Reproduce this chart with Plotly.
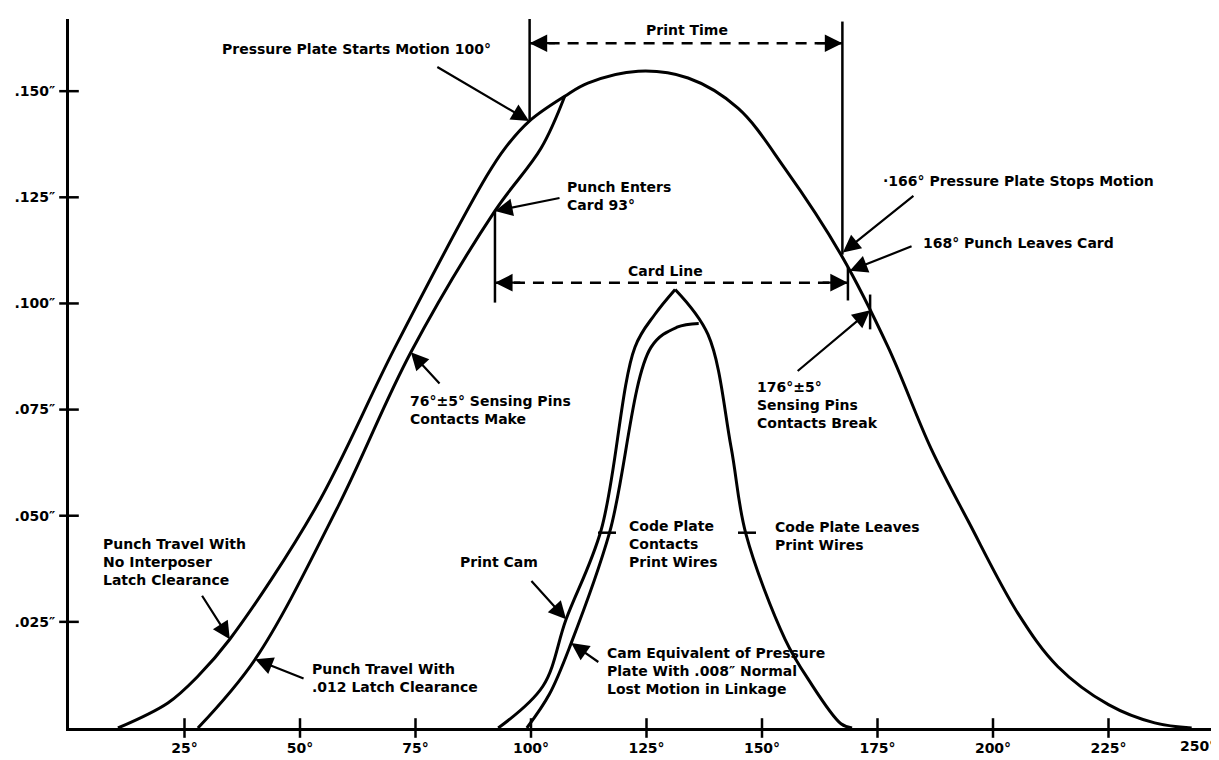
import plotly.graph_objects as go

# curves (degrees, inches)
punch_deg = [10.6, 21.4, 27.9, 34.8, 53.5, 70.6, 90.4, 94.4, 99.7, 107.3, 112.3,
             123.2, 134.0, 144.8, 154.9, 167.1, 177.3, 186.6, 194.6,
             205.4, 214.0, 225.0, 235.0, 243.0]
punch_val = [0.0, 0.0059, 0.0122, 0.0209, 0.0521, 0.0897, 0.1300, 0.1366, 0.1430,
             0.1488, 0.1519, 0.1547, 0.1531, 0.1460, 0.1319, 0.1115,
             0.0897, 0.0658, 0.0488, 0.0270, 0.0145, 0.0055, 0.0012, 0.0]

latch_deg = [27.9, 40.3, 58.2, 74.0, 92.2, 102.2, 107.3]
latch_val = [0.0, 0.0162, 0.0521, 0.0885, 0.1218, 0.1366, 0.1488]

cam_up_deg = [92.9, 102.6, 107.6, 115.2, 122.5, 126.8, 131.2]
cam_up_val = [0.0, 0.0099, 0.0256, 0.0467, 0.0897, 0.0974, 0.1033]
cam_down_deg = [131.2, 138.3, 143.3, 146.5, 155.0, 160.0, 167.1, 169.5]
cam_down_val = [0.1033, 0.0927, 0.0662, 0.0458, 0.0209, 0.0115, 0.0010, 0.0]

plate_deg = [99.1, 104.0, 108.7, 117.0, 126.0, 131.6, 136.3]
plate_val = [0.0, 0.0080, 0.0200, 0.0460, 0.0897, 0.0944, 0.0953]

x_ticks = [25, 50, 75, 100, 125, 150, 175, 200, 225, 250]
x_labels = ["25°", "50°", "75°", "100°", "125°", "150°", "175°", "200°", "225°", "250°"]
y_ticks = [0.025, 0.050, 0.075, 0.100, 0.125, 0.150]
y_labels = [".025″", ".050″", ".075″", ".100″", ".125″", ".150″"]

# marker lines: (x0, y0, x1, y1, dashed)
guides = [
    (99.7, 0.1430, 99.7, 0.1676, False),
    (167.4, 0.1115, 167.4, 0.1664, False),
    (99.7, 0.1613, 167.4, 0.1613, True),
    (92.2, 0.1218, 92.2, 0.1002, False),
    (168.6, 0.1085, 168.6, 0.1007, False),
    (92.2, 0.1049, 168.6, 0.1049, True),
    (173.4, 0.1021, 173.4, 0.0939, False),
    (114.5, 0.0460, 118.4, 0.0460, False),
    (144.8, 0.0460, 148.7, 0.0460, False),
]

# arrows: (tip x, tip y, tail x, tail y)
arrows = [
    (99.6, 0.1430, 79.4, 0.1559),
    (92.2, 0.1218, 106.5, 0.1249),
    (167.5, 0.1120, 183.1, 0.1256),
    (169.0, 0.1077, 182.7, 0.1136),
    (173.4, 0.0984, 157.4, 0.0838),
    (74.0, 0.0885, 80.5, 0.0808),
    (34.8, 0.0209, 28.6, 0.0315),
    (40.3, 0.0162, 51.1, 0.0115),
    (107.6, 0.0256, 99.8, 0.0350),
    (108.7, 0.0200, 114.9, 0.0153),
    (99.7, 0.1613, 105.5, 0.1613),
    (167.4, 0.1613, 161.6, 0.1613),
    (92.2, 0.1049, 98.0, 0.1049),
    (168.6, 0.1049, 162.8, 0.1049),
]

# labels: (x, y, text, anchor)
labels = [
    (32.7, 0.1599, "Pressure Plate Starts Motion 100°", "left"),
    (133.8, 0.1643, "Print Time", "center"),
    (107.4, 0.1252, "Punch Enters<br>Card 93°", "left"),
    (129.2, 0.1077, "Card Line", "center"),
    (175.8, 0.1289, "·166° Pressure Plate Stops Motion", "left"),
    (184.4, 0.1143, "168° Punch Leaves Card", "left"),
    (148.5, 0.0761, "176°±5°<br>Sensing Pins<br>Contacts Break", "left"),
    (73.4, 0.0748, "76°±5° Sensing Pins<br>Contacts Make", "left"),
    (6.9, 0.0392, "Punch Travel With<br>No Interposer<br>Latch Clearance", "left"),
    (52.2, 0.0117, "Punch Travel With<br>.012 Latch Clearance", "left"),
    (84.2, 0.0392, "Print Cam", "left"),
    (120.8, 0.0434, "Code Plate<br>Contacts<br>Print Wires", "left"),
    (152.4, 0.0452, "Code Plate Leaves<br>Print Wires", "left"),
    (116.0, 0.0134, "Cam Equivalent of Pressure<br>Plate With .008″ Normal<br>Lost Motion in Linkage", "left"),
]

FONT = "DejaVu Sans"
fig = go.Figure()

for xs, ys in [(punch_deg, punch_val), (latch_deg, latch_val), (cam_up_deg, cam_up_val),
               (cam_down_deg, cam_down_val), (plate_deg, plate_val)]:
    fig.add_trace(go.Scatter(x=xs, y=ys, mode="lines", line=dict(color="black", width=3, shape="spline", smoothing=1.0),
                             hoverinfo="skip", showlegend=False))

for x0, y0, x1, y1, dashed in guides:
    fig.add_trace(go.Scatter(x=[x0, x1], y=[y0, y1], mode="lines",
                             line=dict(color="black", width=2.5, dash="11px,8px" if dashed else "solid"),
                             hoverinfo="skip", showlegend=False))

# tick marks crossing the axes
fig.add_trace(go.Scatter(x=x_ticks, y=[0] * len(x_ticks), mode="markers", cliponaxis=False,
                         marker=dict(symbol="line-ns", size=14, line=dict(color="black", width=2.5)),
                         hoverinfo="skip", showlegend=False))
fig.add_trace(go.Scatter(x=[0] * len(y_ticks), y=y_ticks, mode="markers", cliponaxis=False,
                         marker=dict(symbol="line-ew", size=14, line=dict(color="black", width=2.5)),
                         hoverinfo="skip", showlegend=False))

for tx, ty, fx, fy in arrows:
    fig.add_annotation(x=tx, y=ty, ax=fx, ay=fy, axref="x", ayref="y", xref="x", yref="y",
                       text="", showarrow=True, arrowhead=2, arrowsize=1.6, arrowwidth=2.2,
                       arrowcolor="black", standoff=0)

for lx, ly, txt, anchor in labels:
    fig.add_annotation(x=lx, y=ly, text="<b>" + txt + "</b>", showarrow=False, xanchor=anchor,
                       yanchor="middle", align="left", font=dict(family=FONT, size=14, color="black"))

# last x tick label sits left of its tick, against the edge
fig.add_annotation(x=x_ticks[-1], y=0, xref="x", yref="y", text="<b>" + x_labels[-1] + "</b>",
                   showarrow=False, xanchor="right", yanchor="top", yshift=-8, xshift=-6,
                   font=dict(family=FONT, size=14, color="black"))

fig.update_layout(
    width=1219, height=760,
    margin=dict(l=61, r=3, t=11, b=40),
    plot_bgcolor="white", paper_bgcolor="white",
    font=dict(family=FONT, size=14, color="black"),
)
fig.update_xaxes(range=[0, 250], showgrid=False, zeroline=False, showline=True, linecolor="black", linewidth=3,
                 tickvals=x_ticks[:-1], ticktext=["<b>" + t + "</b>" for t in x_labels[:-1]], ticks="",
                 ticklabelstandoff=5, tickfont=dict(family=FONT, size=14))
fig.update_yaxes(range=[0, 0.167], showgrid=False, zeroline=False, showline=True, linecolor="black", linewidth=3,
                 tickvals=y_ticks, ticktext=["<b>" + t + "</b>" for t in y_labels], ticks="", ticklabelstandoff=8,
                 tickfont=dict(family=FONT, size=14))

fig.write_html("out.html")
